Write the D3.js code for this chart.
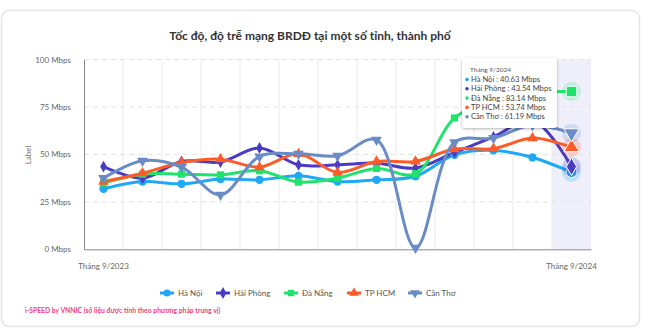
<!DOCTYPE html>
<html>
<head>
<meta charset="utf-8">
<script src="https://cdn.jsdelivr.net/npm/d3@7"></script>
<style>
  html, body { margin: 0; padding: 0; background: #ffffff; }
  svg { display: block; font-family: Lato, "Open Sans", sans-serif; }
</style>
</head>
<body>
<svg id="chart" width="660" height="335"></svg>
<script>
// ---- data ----
const months = ["Tháng 9/2023","Tháng 10/2023","Tháng 11/2023","Tháng 12/2023","Tháng 1/2024","Tháng 2/2024","Tháng 3/2024","Tháng 4/2024","Tháng 5/2024","Tháng 6/2024","Tháng 7/2024","Tháng 8/2024","Tháng 9/2024"];
const seriesNames = ["Hà Nội","Hải Phòng","Đà Nẵng","TP HCM","Cần Thơ"];
const haNoi    = [31.9, 35.7, 34.5, 37.0, 36.6, 38.7, 35.7, 36.6, 38.5, 49.8, 52.1, 48.4, 40.63];
const haiPhong = [43.6, 37.5, 46.3, 46.0, 53.4, 44.5, 44.5, 45.4, 42.8, 51.0, 59.2, 68.0, 43.54];
const daNang   = [34.9, 39.6, 39.6, 39.2, 41.4, 35.4, 37.5, 42.6, 39.8, 69.2, 78.5, 82.5, 83.14];
const tpHCM    = [35.7, 40.1, 45.7, 47.5, 43.3, 50.3, 40.5, 46.3, 46.3, 52.8, 53.0, 58.6, 53.74];
const canTho   = [37.5, 46.6, 43.3, 28.7, 48.9, 50.3, 49.3, 57.7, 0.8, 56.3, 58.6, 65.5, 61.19];
const yTicks = [0, 25, 50, 75, 100];
const xTickLabels = ["Tháng 9/2023", "Tháng 9/2024"];
const colors = ["#1fa8f3", "#4a3cc2", "#1fe36c", "#ff5b27", "#6a8cc6"];
const symbols = [d3.symbolCircle, d3.symbolDiamond, d3.symbolSquare, d3.symbolTriangle, d3.symbolTriangle];
const title = "Tốc độ, độ trễ mạng BRDĐ tại một số tỉnh, thành phố";
const footer = "i-SPEED by VNNIC (số liệu được tính theo phương pháp trung vị)";
const hoverIndex = 12;

const allSeries = [haNoi, haiPhong, daNang, tpHCM, canTho].map((v, i) => ({
  name: seriesNames[i], values: v, color: colors[i], symbol: symbols[i], flip: i === 4
}));

// ---- layout ----
const svg = d3.select("#chart");
const L = 84, R = 591, T = 59.5, B = 249.3;

// card
svg.append("rect").attr("x", 1.5).attr("y", 10.5).attr("width", 638).attr("height", 316)
  .attr("rx", 8).attr("fill", "#fff").attr("stroke", "#e4e4e4").attr("stroke-width", 1.5);

svg.append("text").attr("x", 310).attr("y", 40).attr("text-anchor", "middle")
  .attr("font-size", 12).attr("font-weight", 700).attr("fill", "#333").text(title);

const x = d3.scaleBand().domain(months).range([L, R]).padding(0);
const bw = x.bandwidth();
const cx = m => x(m) + bw / 2;
const y = d3.scaleLinear().domain([0, 100]).range([B, T]);

// highlight band
svg.append("rect").attr("x", x(months[hoverIndex])).attr("y", T).attr("width", bw).attr("height", B - T)
  .attr("fill", "#efeffc");

// vertical grid
svg.append("g").selectAll("line").data(months.slice(1)).join("line")
  .attr("x1", d => x(d)).attr("x2", d => x(d)).attr("y1", T).attr("y2", B)
  .attr("stroke", "#e9e9e9").attr("stroke-width", 1);

// horizontal grid (dashed)
svg.append("g").selectAll("line").data(yTicks.filter(t => t > 0)).join("line")
  .attr("x1", L).attr("x2", R).attr("y1", d => y(d)).attr("y2", d => y(d))
  .attr("stroke", "#e2e2e2").attr("stroke-width", 1).attr("stroke-dasharray", "5,4");

// axes
const yAxis = svg.append("g").attr("transform", `translate(${L},0)`)
  .call(d3.axisLeft(y).tickValues(yTicks).tickSize(0).tickPadding(13).tickFormat(d => d + " Mbps"));
yAxis.select(".domain").attr("stroke", "#888").attr("stroke-width", 1);
yAxis.selectAll("text").attr("font-size", 8).attr("fill", "#666").attr("font-family", "Lato, sans-serif");

const xAxis = svg.append("g").attr("transform", `translate(0,${B})`)
  .call(d3.axisBottom(x).tickValues(xTickLabels).tickSize(0).tickPadding(14));
xAxis.select(".domain").attr("stroke", "#888").attr("stroke-width", 1);
xAxis.selectAll("text").attr("font-size", 8).attr("fill", "#666").attr("font-family", "Lato, sans-serif");

svg.append("text").attr("transform", `translate(31,155) rotate(-90)`).attr("text-anchor", "middle")
  .attr("font-size", 8).attr("fill", "#777").text("Label");

// lines
const line = d3.line().x((d, i) => cx(months[i])).y(d => y(d)).curve(d3.curveCatmullRom.alpha(0.5));
const plot = svg.append("g");
allSeries.forEach(s => {
  plot.append("path").datum(s.values).attr("d", line).attr("fill", "none")
    .attr("stroke", s.color).attr("stroke-width", 3).attr("stroke-linejoin", "round");
});
allSeries.forEach(s => {
  const sz = s.symbol === d3.symbolSquare ? 52 : (s.symbol === d3.symbolTriangle ? 50 : (s.symbol === d3.symbolDiamond ? 40 : 55));
  plot.append("g").selectAll("path").data(s.values.map((v, i) => ({ v, i })).filter(d => d.i !== hoverIndex)).join("path")
    .attr("transform", d => `translate(${cx(months[d.i])},${y(d.v)}) rotate(${s.flip ? 180 : 0})`)
    .attr("d", d3.symbol(s.symbol, sz)).attr("fill", s.color);
});
// hovered points
allSeries.forEach(s => {
  const v = s.values[hoverIndex];
  const px = cx(months[hoverIndex]), py = y(v);
  plot.append("circle").attr("cx", px).attr("cy", py).attr("r", 9.5).attr("fill", s.color).attr("fill-opacity", 0.22);
  const sz = s.symbol === d3.symbolSquare ? 110 : (s.symbol === d3.symbolTriangle ? 100 : 90);
  plot.append("path").attr("transform", `translate(${px},${py}) rotate(${s.flip ? 180 : 0})`)
    .attr("d", d3.symbol(s.symbol, sz)).attr("fill", s.color).attr("stroke", "#fff").attr("stroke-width", 1);
});

// tooltip
const tip = svg.append("g").attr("transform", "translate(462,58)");
const defs = svg.append("defs");
const f = defs.append("filter").attr("id", "sh").attr("x", "-20%").attr("y", "-20%").attr("width", "140%").attr("height", "140%");
f.append("feDropShadow").attr("dx", 0).attr("dy", 1).attr("stdDeviation", 1.5).attr("flood-color", "#000").attr("flood-opacity", 0.3);
tip.append("rect").attr("width", 95).attr("height", 70).attr("rx", 3).attr("fill", "#fff").attr("filter", "url(#sh)");
tip.append("text").attr("x", 8).attr("y", 14).attr("font-size", 6.5).attr("fill", "#555").text(months[hoverIndex]);
allSeries.forEach((s, i) => {
  const ty = 24 + i * 9.3;
  tip.append("circle").attr("cx", 5).attr("cy", ty - 2.5).attr("r", 1.8).attr("fill", s.color);
  tip.append("text").attr("x", 9).attr("y", ty).attr("font-size", 7.6).attr("fill", "#444")
    .text(`${s.name} : ${s.values[hoverIndex].toFixed(2)} Mbps`);
});

// legend
const legendX = [167, 223, 291, 354, 415];
const lg = svg.append("g");
allSeries.forEach((s, i) => {
  const g = lg.append("g").attr("transform", `translate(${legendX[i]},293)`);
  g.append("line").attr("x1", -7).attr("x2", 7).attr("stroke", s.color).attr("stroke-width", 3);
  g.append("path").attr("transform", `rotate(${s.flip ? 180 : 0})`).attr("d", d3.symbol(s.symbol, 40)).attr("fill", s.color);
  g.append("text").attr("x", 11).attr("y", 3).attr("font-size", 8).attr("fill", "#555").text(s.name);
});

svg.append("text").attr("x", 25).attr("y", 313).attr("font-size", 6.8).attr("font-weight", 700)
  .attr("fill", "#f0407f").text(footer);
</script>
</body>
</html>
